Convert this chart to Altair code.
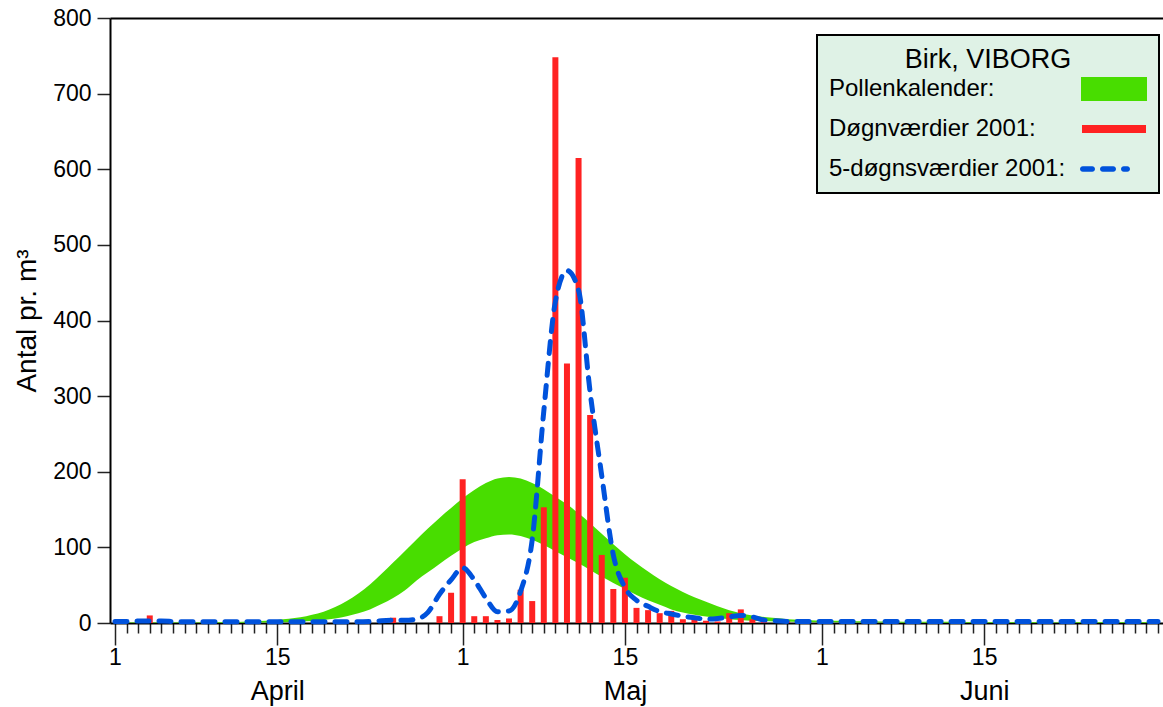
import altair as alt
import pandas as pd

FONT = "Liberation Sans"

# ---- data (day 1 = 1 April 2001, day 91 = 30 June 2001) ----
days = list(range(1, 92))

daily_2001 = [
    0, 0, 0, 10, 0, 0, 0, 0, 0, 0,
    0, 0, 0, 0, 0, 0, 0, 0, 0, 0,
    0, 0, 0, 0, 7, 0, 0, 0, 9, 40,
    190, 9, 9, 4, 6, 44, 29, 153, 748, 343,
    615, 275, 90, 45, 60, 20, 17, 13, 16, 5,
    8, 3, 2, 13, 18, 5, 2, 0, 2, 0,
    0, 0, 0, 0, 0, 2, 0, 0, 0, 0,
    0, 0, 0, 0, 0, 0, 0, 0, 0, 0,
    0, 0, 0, 0, 0, 0, 0, 0, 0, 0,
    0,
]

avg5_2001 = [
    2, 2, 2.5, 2.5, 2.5, 2, 1.5, 1.5, 1.5, 1.5,
    1.5, 1.5, 1.5, 1.5, 1.5, 1.5, 1.5, 1.5, 1.5, 1.5,
    1.5, 1.5, 2, 3, 3.5, 3.5, 5, 14, 38, 57,
    73, 57, 33, 15, 16, 42, 110, 280, 425, 466,
    440, 305, 195, 90, 47, 30, 22, 15, 12, 9,
    7, 5, 6, 8, 10, 8, 4, 3, 2, 2,
    2, 2, 2, 2, 2, 2, 2, 2, 2, 2,
    2, 2, 2, 2, 2, 2, 2, 2, 2, 2,
    2, 2, 2, 2, 2, 2, 2, 2, 2, 2,
    2,
]

calendar_high = [
    0.5, 0.5, 0.5, 0.5, 0.6, 0.7, 0.8, 0.9, 1.0, 1.2,
    1.4, 1.8, 2.3, 3, 4, 5.5, 7.5, 11, 15, 21,
    29, 39, 51, 65, 80, 95, 110, 125, 139, 152,
    165, 176, 185, 191, 193, 191, 185, 177, 167, 157,
    145, 132, 118, 104, 91, 79, 68, 58, 49, 41,
    34, 28, 22, 17, 13, 10, 8, 6.5, 5, 4.2,
    3.6, 3.2, 2.9, 2.6, 2.4, 2.2, 2.0, 1.9, 1.8, 1.7,
    1.6, 1.5, 1.5, 1.4, 1.4, 1.3, 1.3, 1.2, 1.2, 1.2,
    1.1, 1.1, 1.1, 1.0, 1.0, 1.0, 1.0, 0.9, 0.9, 0.9,
    0.9,
]

calendar_low = [
    0.1, 0.1, 0.1, 0.1, 0.1, 0.1, 0.1, 0.2, 0.2, 0.2,
    0.3, 0.3, 0.4, 0.6, 0.8, 1.2, 1.8, 2.6, 4, 6,
    9, 13, 18, 25, 33, 43, 56, 67, 78, 89,
    99, 107, 112, 116, 117, 115, 110, 103, 95, 87,
    79, 70, 61, 53, 45, 37, 30, 24, 18, 14,
    11, 8.5, 6.5, 5, 4, 3, 2.5, 2, 1.6, 1.3,
    1.1, 1.0, 0.9, 0.8, 0.7, 0.6, 0.5, 0.5, 0.4, 0.4,
    0.4, 0.3, 0.3, 0.3, 0.3, 0.2, 0.2, 0.2, 0.2, 0.2,
    0.2, 0.2, 0.1, 0.1, 0.1, 0.1, 0.1, 0.1, 0.1, 0.1,
    0.1,
]

series_names = ["Pollenkalender:", "Døgnværdier 2001:", "5-døgnsværdier 2001:"]
series_colors = ["#48dd00", "#ff2222", "#0052dc"]
legend_title = "Birk, VIBORG"

tick_days = [1, 15, 31, 45, 62, 76]
tick_labels = ["1", "15", "1", "15", "1", "15"]
month_days = [15, 45, 76]
month_names = ["April", "Maj", "Juni"]
y_ticks = [0, 100, 200, 300, 400, 500, 600, 700, 800]
y_title = "Antal pr. m³"


def label_expr(values, labels):
    expr = "''"
    for v, l in reversed(list(zip(values, labels))):
        expr = f"datum.value == {v} ? '{l}' : ({expr})"
    return expr


def rect_path(x1, x2, h):
    return f"M{x1},{-h}H{x2}V{h}H{x1}Z"


def dash_path(x1, x2, r):
    a, b = x1 + r, x2 - r
    return (f"M{a},{-r}H{b}A{r},{r} 0 0 1 {b},{r}"
            f"H{a}A{r},{r} 0 0 1 {a},{-r}Z")


cal_df = pd.DataFrame({"day": days, "lo": calendar_low, "hi": calendar_high,
                       "serie": series_names[0]})
bar_df = pd.DataFrame({"day": days, "value": daily_2001, "serie": series_names[1]})
line_df = pd.DataFrame({"day": days, "value": avg5_2001, "serie": series_names[2]})

x_scale = alt.Scale(domain=[days[0], days[-1]], nice=False, zero=False)
y_scale = alt.Scale(domain=[y_ticks[0], y_ticks[-1]], nice=False)

y_axis = alt.Axis(
    values=y_ticks, title=y_title, grid=False,
    titleFont=FONT, titleFontSize=28, titleFontWeight="normal", titleColor="black",
    titlePadding=11,
    labelFont=FONT, labelFontSize=23, labelColor="black", labelPadding=6,
    tickSize=13, tickColor="#222222", tickWidth=1.5,
    domainColor="black", domainWidth=2,
)

major_test = "indexof([" + ",".join(str(d) for d in tick_days) + "], datum.value) >= 0"

x_axis_main = alt.Axis(
    orient="bottom", values=days, title=None, grid=False,
    tickSize={"condition": {"test": major_test, "value": 22}, "value": 10},
    tickColor="#222222", tickWidth=1.5,
    labelExpr=label_expr(tick_days, tick_labels),
    labelFont=FONT, labelFontSize=23, labelColor="black", labelPadding=1,
    labelFlush=False, labelOverlap=False,
    domainColor="black", domainWidth=2,
)

x_axis_months = alt.Axis(
    orient="bottom", values=month_days, title=None, grid=False,
    ticks=False, domain=False,
    labelExpr=label_expr(month_days, month_names),
    labelFont=FONT, labelFontSize=27, labelColor="black", labelPadding=55,
    labelFlush=False, labelOverlap=False,
)

x_axis_top = alt.Axis(
    orient="top", title=None, grid=False, ticks=False, labels=False,
    domain=True, domainColor="black", domainWidth=2,
)

# legend symbols: filled custom paths drawn to the right of the labels
n0, n1, n2 = series_names
green_sym = rect_path(48, 61.2, 2.4)
red_sym = rect_path(48.2, 61, 0.8)
blue_sym = " ".join([dash_path(47.8, 50.8, 0.55),
                     dash_path(51.8, 55, 0.55),
                     dash_path(56, 57.8, 0.55)])
shape_expr = (
    f"datum.value == '{n0}' ? '{green_sym}' : "
    f"(datum.value == '{n1}' ? '{red_sym}' : '{blue_sym}')"
)

legend = alt.Legend(
    title=legend_title, orient="none", legendX=707, legendY=17,
    direction="vertical",
    fillColor="#dff2e6", strokeColor="black", padding=12,
    titleFont=FONT, titleFontSize=27, titleFontWeight="normal", titleColor="black",
    titleAnchor="middle", titleAlign="center", titleBaseline="top", titlePadding=3,
    labelFont=FONT, labelFontSize=24, labelColor="black", labelLimit=400,
    labelOffset={"expr": "-24"}, symbolSize=100, rowPadding=16,
    symbolType={"expr": shape_expr},
    symbolStrokeWidth=0, symbolOpacity=1,
)

color_scale = alt.Scale(domain=series_names, range=series_colors)

area = alt.Chart(cal_df).mark_area(interpolate="monotone", opacity=1).encode(
    x=alt.X("day:Q", scale=x_scale, axis=x_axis_main),
    y=alt.Y("lo:Q", scale=y_scale, axis=y_axis),
    y2="hi:Q",
    color=alt.Color("serie:N", scale=color_scale, legend=legend),
)

bars = alt.Chart(bar_df).mark_bar(size=6, opacity=1).encode(
    x=alt.X("day:Q", scale=x_scale, axis=x_axis_months),
    y=alt.Y("value:Q", scale=y_scale, axis=y_axis),
    color=alt.Color("serie:N", scale=color_scale, legend=None),
)

line = alt.Chart(line_df).mark_line(
    interpolate="monotone", strokeWidth=5, strokeDash=[12, 10], strokeCap="round"
).encode(
    x=alt.X("day:Q", scale=x_scale, axis=x_axis_top),
    y=alt.Y("value:Q", scale=y_scale, axis=y_axis),
    color=alt.Color("serie:N", scale=color_scale, legend=None),
)

chart = alt.layer(area, bars, line).resolve_axis(x="independent").properties(
    width=1053, height=605,
    padding={"left": 110, "top": 18, "right": 0, "bottom": 84},
    autosize=alt.AutoSizeParams(type="none"),
    background="white",
).configure_view(stroke=None).configure_legend(strokeWidth=2)

chart.save("out.html", embed_options={"renderer": "svg", "actions": False})
